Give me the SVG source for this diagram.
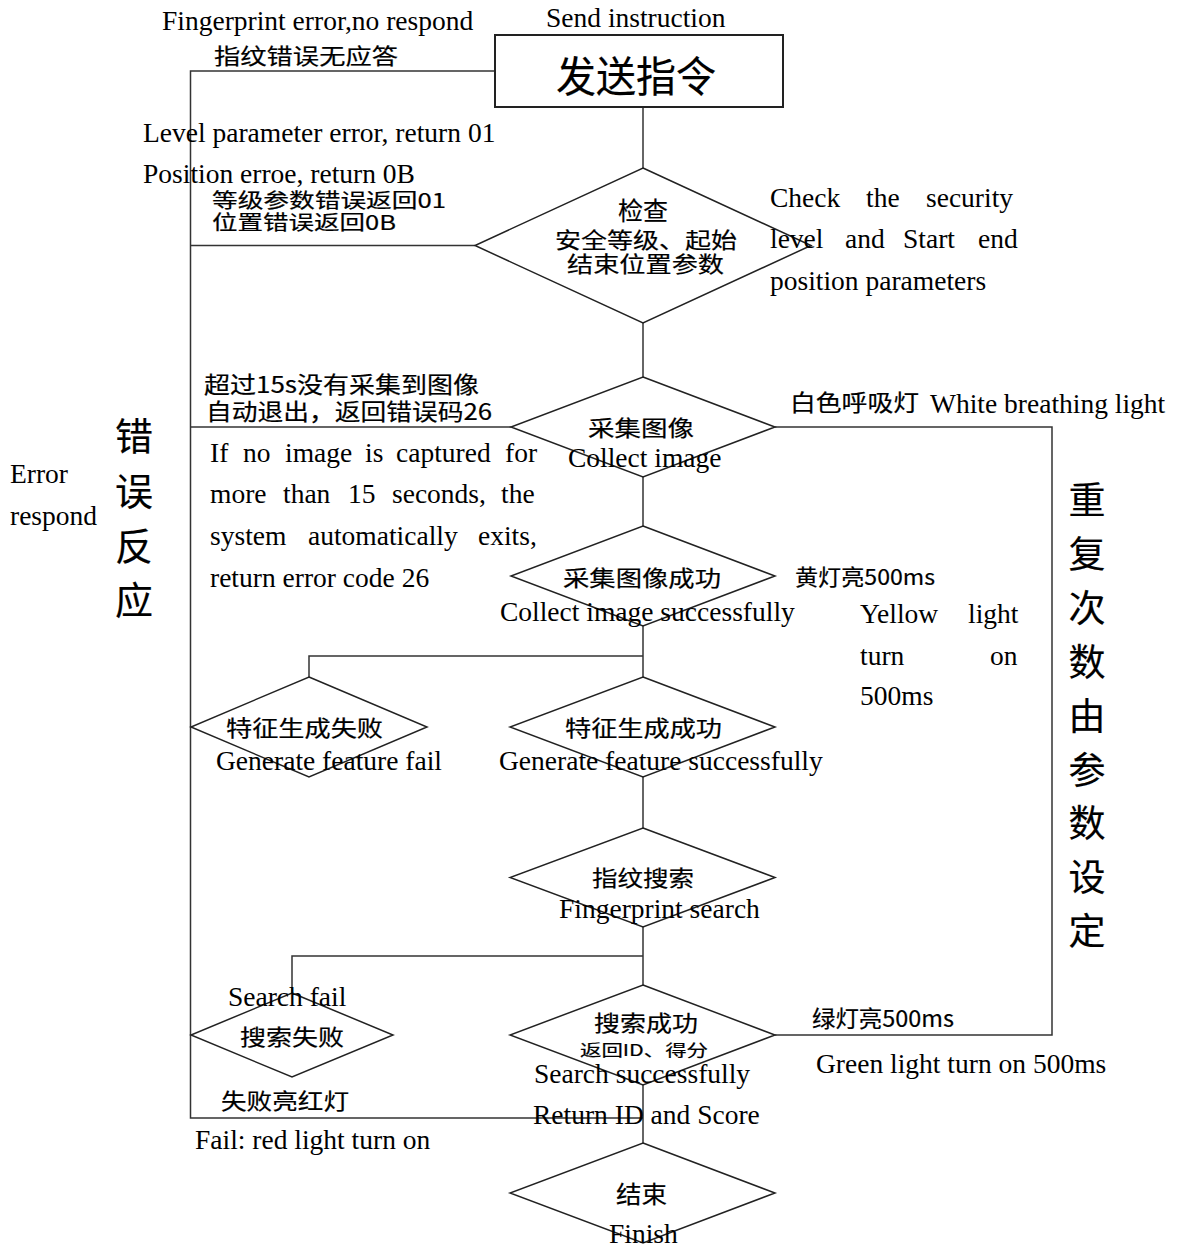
<svg xmlns="http://www.w3.org/2000/svg" width="1185" height="1249" viewBox="0 0 1185 1249">
<style>
.bg{fill:#fff}
.shape{fill:none;stroke:#222;stroke-width:1.5}
.box{fill:none;stroke:#222;stroke-width:2}
.line{fill:none;stroke:#333;stroke-width:1.5}
.en{font-family:"Liberation Serif","Times New Roman",serif;font-size:27.5px;fill:#000}
.zh{font-family:"Noto Sans CJK SC","Noto Sans",sans-serif;fill:#000;stroke:#000;stroke-width:0.2}
</style>
<rect class="bg" x="0" y="0" width="1185" height="1249"/>
<g id="connectors">
<path class="line" d="M643,107 V168"/>
<path class="line" d="M495,71 H190.5 V1118 H643"/>
<path class="line" d="M190.5,245.5 H475"/>
<path class="line" d="M643,323 V377"/>
<path class="line" d="M190.5,427 H511"/>
<path class="line" d="M775,427 H1052 V1035 H775"/>
<path class="line" d="M643,477 V526"/>
<path class="line" d="M643,626 V677"/>
<path class="line" d="M309,677 V656 H643"/>
<path class="line" d="M643,777 V828"/>
<path class="line" d="M643,927 V985"/>
<path class="line" d="M292,993 V956 H643"/>
<path class="line" d="M643,1085 V1143"/>
</g>
<g id="n-send">
<rect class="box" x="495" y="35" width="288" height="72"/>
<text class="zh" x="556" y="92" font-size="42" textLength="160" lengthAdjust="spacingAndGlyphs">发送指令</text>
<text class="en" x="546" y="27">Send instruction</text>
</g>
<g id="n-check">
<polygon class="shape" points="643,168 811,245.5 643,323 475,245.5"/>
<text class="zh" x="643" y="220" font-size="25" text-anchor="middle">检查</text>
<text class="zh" x="555" y="248" font-size="22" textLength="182" lengthAdjust="spacingAndGlyphs">安全等级、起始</text>
<text class="zh" x="567" y="271.5" font-size="22" textLength="157" lengthAdjust="spacingAndGlyphs">结束位置参数</text>
<text class="en" y="207"><tspan x="770">Check</tspan><tspan x="866">the</tspan><tspan x="926">security</tspan></text>
<text class="en" y="248"><tspan x="770">level</tspan><tspan x="845">and</tspan><tspan x="903">Start</tspan><tspan x="978">end</tspan></text>
<text class="en" x="770" y="290">position parameters</text>
</g>
<g id="n-collect">
<polygon class="shape" points="643,377 775,427 643,477 511,427"/>
<text class="zh" x="588" y="436" font-size="22" textLength="106" lengthAdjust="spacingAndGlyphs">采集图像</text>
<text class="en" x="568" y="467">Collect image</text>
</g>
<g id="n-collect-ok">
<polygon class="shape" points="643,526 775,576 643,626 511,576"/>
<text class="zh" x="563" y="586" font-size="22" textLength="158" lengthAdjust="spacingAndGlyphs">采集图像成功</text>
<text class="en" x="500" y="621">Collect image successfully</text>
</g>
<g id="n-feat-fail">
<polygon class="shape" points="309,677 427,727 309,777 191,727"/>
<text class="zh" x="226" y="736" font-size="22" textLength="157" lengthAdjust="spacingAndGlyphs">特征生成失败</text>
<text class="en" x="216" y="770">Generate feature fail</text>
</g>
<g id="n-feat-ok">
<polygon class="shape" points="643,677 775,727 643,777 510,727"/>
<text class="zh" x="565" y="736" font-size="22" textLength="157" lengthAdjust="spacingAndGlyphs">特征生成成功</text>
<text class="en" x="499" y="770">Generate feature successfully</text>
</g>
<g id="n-search">
<polygon class="shape" points="643,828 775,877.5 643,927 510,877.5"/>
<text class="zh" x="592" y="886" font-size="22" textLength="102" lengthAdjust="spacingAndGlyphs">指纹搜索</text>
<text class="en" x="559" y="918">Fingerprint search</text>
</g>
<g id="n-search-fail">
<polygon class="shape" points="292,993 393,1035 292,1077 191,1035"/>
<text class="en" x="228" y="1006">Search fail</text>
<text class="zh" x="240" y="1045" font-size="22" textLength="104" lengthAdjust="spacingAndGlyphs">搜索失败</text>
</g>
<g id="n-search-ok">
<polygon class="shape" points="643,985 775,1035 643,1085 510,1035"/>
<text class="zh" x="594" y="1031" font-size="22" textLength="104" lengthAdjust="spacingAndGlyphs">搜索成功</text>
<text class="zh" x="580" y="1056" font-size="16" textLength="128" lengthAdjust="spacingAndGlyphs">返回ID、得分</text>
<text class="en" x="534" y="1083">Search successfully</text>
<text class="en" x="533" y="1124">Return ID and Score</text>
</g>
<g id="n-finish">
<polygon class="shape" points="643,1143 775,1193 643,1243 510,1193"/>
<text class="zh" x="616" y="1203" font-size="24" textLength="51" lengthAdjust="spacingAndGlyphs">结束</text>
<text class="en" x="609" y="1243">Finish</text>
</g>
<g id="labels-error">
<text class="en" x="162" y="30">Fingerprint error,no respond</text>
<text class="zh" x="214" y="63.5" font-size="22" textLength="184" lengthAdjust="spacingAndGlyphs">指纹错误无应答</text>
<text class="en" x="143" y="142">Level parameter error, return 01</text>
<text class="en" x="143" y="183">Position erroe, return 0B</text>
<text class="zh" x="212" y="208" font-size="20" textLength="234" lengthAdjust="spacingAndGlyphs">等级参数错误返回01</text>
<text class="zh" x="212" y="229.5" font-size="20" textLength="184" lengthAdjust="spacingAndGlyphs">位置错误返回0B</text>
<text class="zh" x="204" y="393" font-size="23" textLength="275" lengthAdjust="spacingAndGlyphs">超过15s没有采集到图像</text>
<text class="zh" x="206" y="420" font-size="23" textLength="286" lengthAdjust="spacingAndGlyphs">自动退出，返回错误码26</text>
<text class="en" y="462"><tspan x="210">If</tspan><tspan x="243">no</tspan><tspan x="285">image</tspan><tspan x="365">is</tspan><tspan x="396">captured</tspan><tspan x="505">for</tspan></text>
<text class="en" y="503"><tspan x="210">more</tspan><tspan x="283">than</tspan><tspan x="348">15</tspan><tspan x="392">seconds,</tspan><tspan x="501">the</tspan></text>
<text class="en" y="545"><tspan x="210">system</tspan><tspan x="308">automatically</tspan><tspan x="478">exits,</tspan></text>
<text class="en" x="210" y="587">return error code 26</text>
<text class="en" x="10" y="483">Error</text>
<text class="en" x="10" y="525">respond</text>
<text class="zh" font-size="38" text-anchor="middle"><tspan x="134" y="450">错</tspan><tspan x="134" y="505">误</tspan><tspan x="134" y="560">反</tspan><tspan x="134" y="614">应</tspan></text>
<text class="zh" x="221" y="1109" font-size="22" textLength="128" lengthAdjust="spacingAndGlyphs">失败亮红灯</text>
<text class="en" x="195" y="1149">Fail: red light turn on</text>
</g>
<g id="labels-repeat">
<text class="zh" x="790" y="411" font-size="23" textLength="129" lengthAdjust="spacingAndGlyphs">白色呼吸灯</text>
<text class="en" x="930" y="413">White breathing light</text>
<text class="zh" x="795" y="585" font-size="22" textLength="140" lengthAdjust="spacingAndGlyphs">黄灯亮500ms</text>
<text class="en" y="623"><tspan x="860">Yellow</tspan><tspan x="968">light</tspan></text>
<text class="en" y="665"><tspan x="860">turn</tspan><tspan x="990">on</tspan></text>
<text class="en" x="860" y="705">500ms</text>
<text class="zh" font-size="37" text-anchor="middle"><tspan x="1087" y="514">重</tspan><tspan x="1087" y="568">复</tspan><tspan x="1087" y="622">次</tspan><tspan x="1087" y="676">数</tspan><tspan x="1087" y="730">由</tspan><tspan x="1087" y="784">参</tspan><tspan x="1087" y="837">数</tspan><tspan x="1087" y="891">设</tspan><tspan x="1087" y="945">定</tspan></text>
<text class="zh" x="812" y="1027" font-size="23" textLength="142" lengthAdjust="spacingAndGlyphs">绿灯亮500ms</text>
<text class="en" x="816" y="1073">Green light turn on 500ms</text>
</g>
</svg>
